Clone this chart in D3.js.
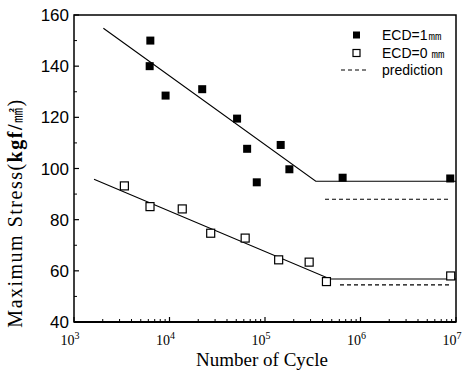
<!DOCTYPE html>
<html><head><meta charset="utf-8">
<script src="https://cdn.jsdelivr.net/npm/d3@7"></script>
<style>body{margin:0;background:#fff}svg{display:block}</style>
</head><body>
<script>
const nFilled = [6.3e3, 6.2e3, 9.1e3, 2.2e4, 5.1e4, 6.5e4, 8.2e4, 1.46e5, 1.8e5, 6.5e5, 8.7e6];
const sFilled = [150, 140, 128.5, 131, 119.5, 107.7, 94.6, 109.2, 99.7, 96.4, 96.1];
const nOpen = [3.37e3, 6.25e3, 1.36e4, 2.7e4, 6.2e4, 1.39e5, 2.9e5, 4.4e5, 8.8e6];
const sOpen = [93.2, 85.1, 84.2, 74.7, 72.8, 64.3, 63.4, 55.8, 58];
const fitFilledN = [2.03e3, 3.4e5, 1e7], fitFilledS = [154.8, 95, 95];
const fitOpenN = [1.62e3, 4.8e5, 1e7], fitOpenS = [95.8, 56.8, 56.8];
const predFilledN = [4.25e5, 8.7e6], predFilledS = [88, 88];
const predOpenN = [6.1e5, 8.8e6], predOpenS = [54.5, 54.5];
const yTicks = [40, 60, 80, 100, 120, 140, 160];
const xTickExp = [3, 4, 5, 6, 7];
const legendLabels = ["ECD=1㎜", "ECD=0 ㎜", "prediction"];

const W = 466, H = 378, m = {l: 74, r: 10, t: 15, b: 56};
const svg = d3.select("body").append("svg").attr("width", W).attr("height", H);
const x = d3.scaleLog().domain([1e3, 1e7]).range([m.l, W - m.r]);
const y = d3.scaleLinear().domain([40, 160]).range([H - m.b, m.t]);

// minor/major ticks
const g = svg.append("g");
const xMinor = [];
for (let e = 3; e < 7; e++) for (let k = 2; k <= 9; k++) xMinor.push(k * Math.pow(10, e));
g.selectAll(".xm").data(xMinor).join("line")
  .attr("x1", d => x(d)).attr("x2", d => x(d)).attr("y1", y(40)).attr("y2", y(40) - 3)
  .attr("stroke", "#000").attr("stroke-width", 1);
g.selectAll(".xM").data(xTickExp).join("line")
  .attr("x1", d => x(Math.pow(10, d))).attr("x2", d => x(Math.pow(10, d)))
  .attr("y1", y(40)).attr("y2", y(40) - 5).attr("stroke", "#000").attr("stroke-width", 1.2);
const yMinor = d3.range(50, 160, 20);
g.selectAll(".ym").data(yMinor).join("line")
  .attr("x1", m.l).attr("x2", m.l + 3).attr("y1", d => y(d)).attr("y2", d => y(d))
  .attr("stroke", "#000");
g.selectAll(".yM").data(yTicks).join("line")
  .attr("x1", m.l).attr("x2", m.l + 5).attr("y1", d => y(d)).attr("y2", d => y(d))
  .attr("stroke", "#000").attr("stroke-width", 1.2);

// frame
svg.append("rect").attr("x", m.l).attr("y", m.t).attr("width", W - m.r - m.l).attr("height", H - m.b - m.t)
  .attr("fill", "none").attr("stroke", "#000").attr("stroke-width", 1.5);
svg.append("line").attr("x1", m.l).attr("x2", W - m.r).attr("y1", y(40)).attr("y2", y(40))
  .attr("stroke", "#000").attr("stroke-width", 2.2);

// y tick labels
svg.selectAll(".yl").data(yTicks).join("text")
  .attr("x", m.l - 5).attr("y", d => y(d) + 6).attr("text-anchor", "end")
  .attr("font-family", "Liberation Sans, Arial, sans-serif").attr("font-size", 17)
  .text(d => d);

// x tick labels
const xl = svg.selectAll(".xl").data(xTickExp).join("text")
  .attr("x", d => x(Math.pow(10, d)) - 4).attr("y", 345).attr("text-anchor", "middle")
  .attr("font-family", "Liberation Serif, Times New Roman, serif").attr("font-size", 14);
xl.append("tspan").text("10");
xl.append("tspan").attr("dy", -6).attr("font-size", 10).text(d => d);

// axis titles
svg.append("text").attr("x", 262).attr("y", 366).attr("text-anchor", "middle")
  .attr("font-family", "Liberation Serif, Times New Roman, serif").attr("font-size", 19)
  .text("Number of Cycle");
const yt = svg.append("text").attr("transform", "translate(22,213) rotate(-90)")
  .attr("text-anchor", "middle").attr("letter-spacing", 1.5)
  .attr("font-family", "Liberation Serif, Times New Roman, serif").attr("font-size", 20);
yt.append("tspan").text("Maximum Stress(");
yt.append("tspan").attr("font-weight", "bold").text("kgf/");
yt.append("tspan").attr("font-size", 15).attr("font-family", "Noto Sans CJK JP").text("㎟");
yt.append("tspan").text(")");

// lines
const line = d3.line().x(d => x(d[0])).y(d => y(d[1]));
const zip = (a, b) => a.map((v, i) => [v, b[i]]);
svg.append("path").attr("d", line(zip(fitFilledN, fitFilledS))).attr("fill", "none").attr("stroke", "#000").attr("stroke-width", 1.1);
svg.append("path").attr("d", line(zip(fitOpenN, fitOpenS))).attr("fill", "none").attr("stroke", "#000").attr("stroke-width", 1.1);
svg.append("path").attr("d", line(zip(predFilledN, predFilledS))).attr("fill", "none").attr("stroke", "#000").attr("stroke-width", 1.1).attr("stroke-dasharray", "4,3");
svg.append("path").attr("d", line(zip(predOpenN, predOpenS))).attr("fill", "none").attr("stroke", "#000").attr("stroke-width", 1.1).attr("stroke-dasharray", "4,3");

// markers
const s = 8;
svg.selectAll(".pf").data(zip(nFilled, sFilled)).join("rect")
  .attr("x", d => x(d[0]) - s / 2).attr("y", d => y(d[1]) - s / 2).attr("width", s).attr("height", s)
  .attr("fill", "#000");
svg.selectAll(".po").data(zip(nOpen, sOpen)).join("rect")
  .attr("x", d => x(d[0]) - s / 2).attr("y", d => y(d[1]) - s / 2).attr("width", s).attr("height", s)
  .attr("fill", "#fff").attr("stroke", "#000").attr("stroke-width", 1.2);

// legend
const ly = [35, 53, 70];
svg.append("rect").attr("x", 353).attr("y", ly[0] - 3.5).attr("width", 7).attr("height", 7).attr("fill", "#000");
svg.append("rect").attr("x", 353).attr("y", ly[1] - 3.5).attr("width", 7).attr("height", 7).attr("fill", "#fff").attr("stroke", "#000").attr("stroke-width", 1.2);
svg.append("line").attr("x1", 341).attr("x2", 369).attr("y1", ly[2]).attr("y2", ly[2]).attr("stroke", "#000").attr("stroke-dasharray", "4,3");
svg.selectAll(".lt").data(legendLabels).join("text")
  .attr("x", 382).attr("y", (d, i) => ly[i] + 5)
  .attr("font-family", "Liberation Sans, Arial, sans-serif").attr("font-size", 14)
  .text(d => d);
</script>
</body></html>
